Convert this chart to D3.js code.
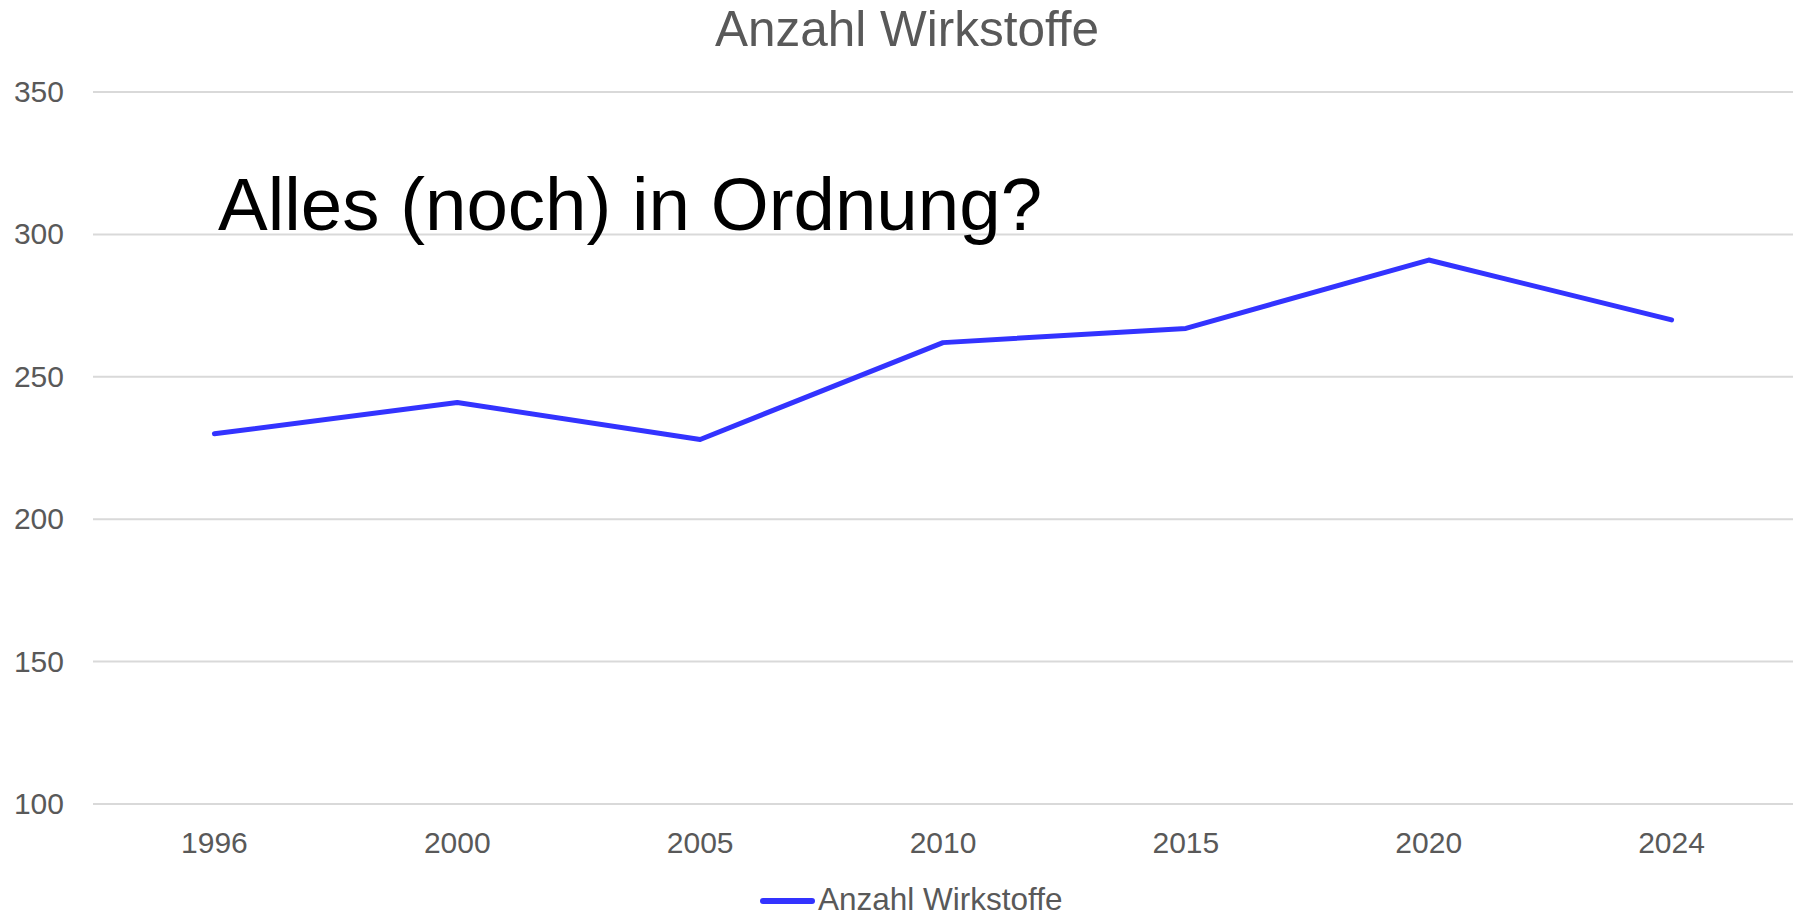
<html>
<head>
<title>Anzahl Wirkstoffe</title>
</head>
<body style='margin: 0;padding: 0;background: white'>
<div id="chart"></div>
<script src="https://cdn.jsdelivr.net/npm/d3@7"></script>
<script>

var years = ['1996', '2000', '2005', '2010', '2015', '2020', '2024']
var wirkstoffe = [230, 241, 228, 262, 267, 291, 270]
var y_ticks = [100, 150, 200, 250, 300, 350]

var series_name = 'Anzahl Wirkstoffe'
var note = 'Alles (noch) in Ordnung?'

var width = 1800
var height = 917
var left = 93
var right = 1793
var top_ = 92
var bottom = 804
var grey = '#595959'
var line_colour = '#3333ff'
var font = 'Liberation Sans, Arial, sans-serif'

var canvas = d3.select('#chart').append('svg')
  .attr('width', width)
  .attr('height', height)

var x = d3.scaleBand().domain(years).range([left, right])
var y = d3.scaleLinear().domain([100, 350]).range([bottom, top_])

// grid
canvas.selectAll('.grid').data(y_ticks).enter()
  .append('line')
  .attr('class', 'grid')
  .attr('x1', left)
  .attr('x2', right)
  .attr('y1', d => y(d))
  .attr('y2', d => y(d))
  .style('stroke', '#d9d9d9')
  .style('stroke-width', '2px')

// y labels
canvas.selectAll('.ylab').data(y_ticks).enter()
  .append('text')
  .attr('class', 'ylab')
  .text(d => d)
  .attr('x', 64)
  .attr('y', d => y(d) + 10)
  .attr('text-anchor', 'end')
  .attr('font-family', font)
  .attr('font-size', 30)
  .style('fill', grey)

// x labels
canvas.selectAll('.xlab').data(years).enter()
  .append('text')
  .attr('class', 'xlab')
  .text(d => d)
  .attr('x', d => x(d) + x.bandwidth() / 2)
  .attr('y', 853)
  .attr('text-anchor', 'middle')
  .attr('font-family', font)
  .attr('font-size', 30)
  .style('fill', grey)

// title
canvas.append('text')
  .text(series_name)
  .attr('x', 907)
  .attr('y', 46)
  .attr('text-anchor', 'middle')
  .attr('font-family', font)
  .attr('font-size', 49.5)
  .style('fill', grey)

// line
var line = d3.line()
  .x((d, i) => x(years[i]) + x.bandwidth() / 2)
  .y(d => y(d))

canvas.append('path')
  .datum(wirkstoffe)
  .attr('d', line)
  .style('fill', 'none')
  .style('stroke', line_colour)
  .style('stroke-width', '5px')
  .style('stroke-linecap', 'round')
  .style('stroke-linejoin', 'round')

// annotation
canvas.append('text')
  .text(note)
  .attr('x', 218)
  .attr('y', 230)
  .attr('font-family', font)
  .attr('font-size', 74.5)
  .style('fill', 'black')

// legend
canvas.append('line')
  .attr('x1', 763)
  .attr('x2', 812)
  .attr('y1', 901)
  .attr('y2', 901)
  .style('stroke', line_colour)
  .style('stroke-width', '6px')
  .style('stroke-linecap', 'round')

canvas.append('text')
  .text(series_name)
  .attr('x', 818)
  .attr('y', 910)
  .attr('font-family', font)
  .attr('font-size', 31.5)
  .style('fill', grey)

</script>
</body>
</html>
